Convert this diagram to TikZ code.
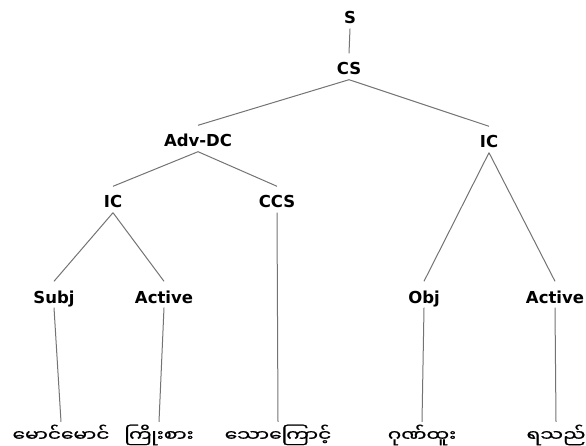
\documentclass[tikz,border=0pt]{standalone}
\usepackage{fontspec}
\newfontfamily\catfont{DejaVu Sans}
\newfontfamily\myan[Script=Myanmar,FakeStretch=1.3,FakeBold=0.8]{Noto Sans Myanmar UI}

\begin{document}
\begin{tikzpicture}[x=1pt,y=-1pt]
\tikzstyle{cat}=[font=\catfont\bfseries\fontsize{16.5}{18}\selectfont, inner sep=0, text height=21.5pt, text depth=4.5pt, anchor=base]
\tikzstyle{wrd}=[font=\myan\fontsize{15.5}{18}\selectfont, inner sep=0, text height=19pt, text depth=3pt, anchor=base]
\tikzstyle{e}=[draw=black!55, line width=1pt]

    \useasboundingbox (0,0) rectangle (586,446);

    \node[cat] (1) at (350,24) {S};
    \node[cat] (2) at (349,75) {CS};
    \node[cat] (3) at (198,147) {Adv-DC};
    \node[cat] (4) at (489,148) {IC};
    \node[cat] (5) at (113,208) {IC};
    \node[cat] (6) at (277,208) {CCS};
    \node[cat] (7) at (54,303) {Subj};
    \node[cat] (8) at (164,303) {Active};
    \node[cat] (9) at (424,303) {Obj};
    \node[cat] (10) at (555,303) {Active};

    \node[wrd] (11) at (61,441) {မောင်မောင်};
    \node[wrd] (12) at (159,441) {ကြိုးစား};
    \node[wrd] (13) at (278,441) {သောကြောင့်};
    \node[wrd] (14) at (422,441) {ဂုဏ်ထူး};
    \node[wrd] (15) at (556,441) {ရသည်};

    \draw[e] (1.south) -- (2.north);
    \draw[e] (2.south) -- (3.north);
    \draw[e] (2.south) -- (4.north);
    \draw[e] (3.south) -- (5.north);
    \draw[e] (3.south) -- (6.north);
    \draw[e] (5.south) -- (7.north);
    \draw[e] (5.south) -- (8.north);
    \draw[e] (4.south) -- (9.north);
    \draw[e] (4.south) -- (10.north);
    \draw[e] (7.south) -- (11.north);
    \draw[e] (8.south) -- (12.north);
    \draw[e] (6.south) -- (13.north);
    \draw[e] (9.south) -- (14.north);
    \draw[e] (10.south) -- (15.north);

\end{tikzpicture}
\end{document}
